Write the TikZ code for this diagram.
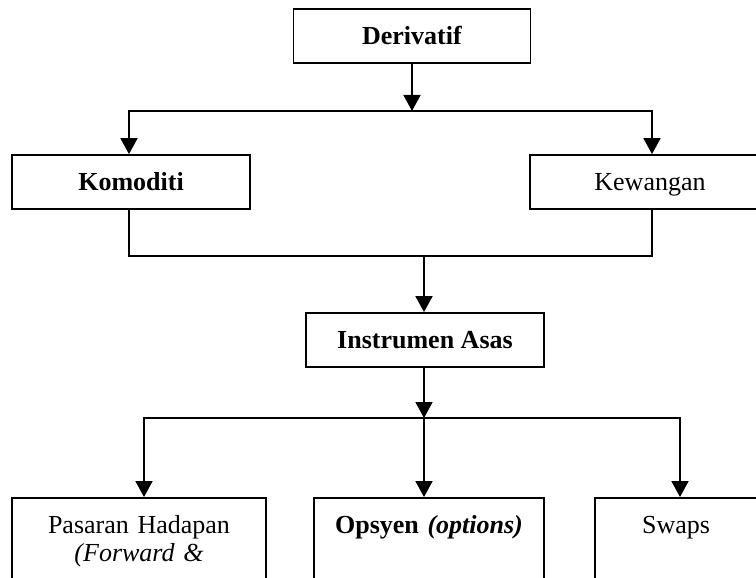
\documentclass[tikz,border=0pt]{standalone}
\usepackage{fontspec}
\setmainfont{Liberation Serif}
\usetikzlibrary{arrows.meta}
\begin{document}
\begin{tikzpicture}[x=1pt,y=-1pt,
  box/.style={draw, line width=1.8pt, rectangle, inner sep=0pt, font=\fontsize{26}{28}\selectfont},
  midbox/.style={box, text height=18.6pt, text depth=1.4pt},
  lowbox/.style={box, anchor=north, align=center, text height=18pt, text depth=90pt, inner ysep=18pt, inner xsep=0pt},
  conn/.style={line width=1.8pt},
  arr/.style={conn, -{Triangle[length=16pt,width=17pt]}}]
\useasboundingbox (0,0) rectangle (756,578);
\clip (0,0) rectangle (756,578);
\fill[white] (0,0) rectangle (756,578);
% boxes
\node[midbox, minimum width=237pt, minimum height=54pt] (deriv) at (412,36) {\textbf{Derivatif}};
\node[midbox, minimum width=238pt, minimum height=54pt] (komod) at (131,182) {\textbf{Komoditi}};
\node[midbox, minimum width=240pt, minimum height=54pt] (kewang) at (650,182) {Kewangan};
\node[midbox, minimum width=238pt, minimum height=54pt] (instr) at (425,340) {\textbf{Instrumen Asas}};
\node[lowbox, text width=254pt] (pasaran) at (139,497) {Pasaran Hadapan\\\textit{(Forward \&}};
\node[lowbox, text width=230pt] (opsyen) at (429,497) {\textbf{Opsyen \textit{(options)}}};
\node[lowbox, text width=162pt] (swaps) at (676,497) {Swaps};
% junctions
\coordinate (j1) at (412,111);
\coordinate (j2) at (424,256);
\coordinate (j3) at (424,418);
% connectors
\draw[arr] (deriv.south) -- (j1);
\draw[arr] (j1) -| ([xshift=-2pt]komod.north);
\draw[arr] (j1) -| ([xshift=2pt]kewang.north);
\draw[conn] ([xshift=-2pt]komod.south) |- (j2) -| ([xshift=2pt]kewang.south);
\draw[arr] (j2) -- (j2 |- instr.north);
\draw[arr] (j2 |- instr.south) -- (j3);
\draw[arr] (j3) -| ([xshift=5pt]pasaran.north);
\draw[arr] (j3) -- (j3 |- opsyen.north);
\draw[arr] (j3) -| ([xshift=4pt]swaps.north);
\end{tikzpicture}
\end{document}
